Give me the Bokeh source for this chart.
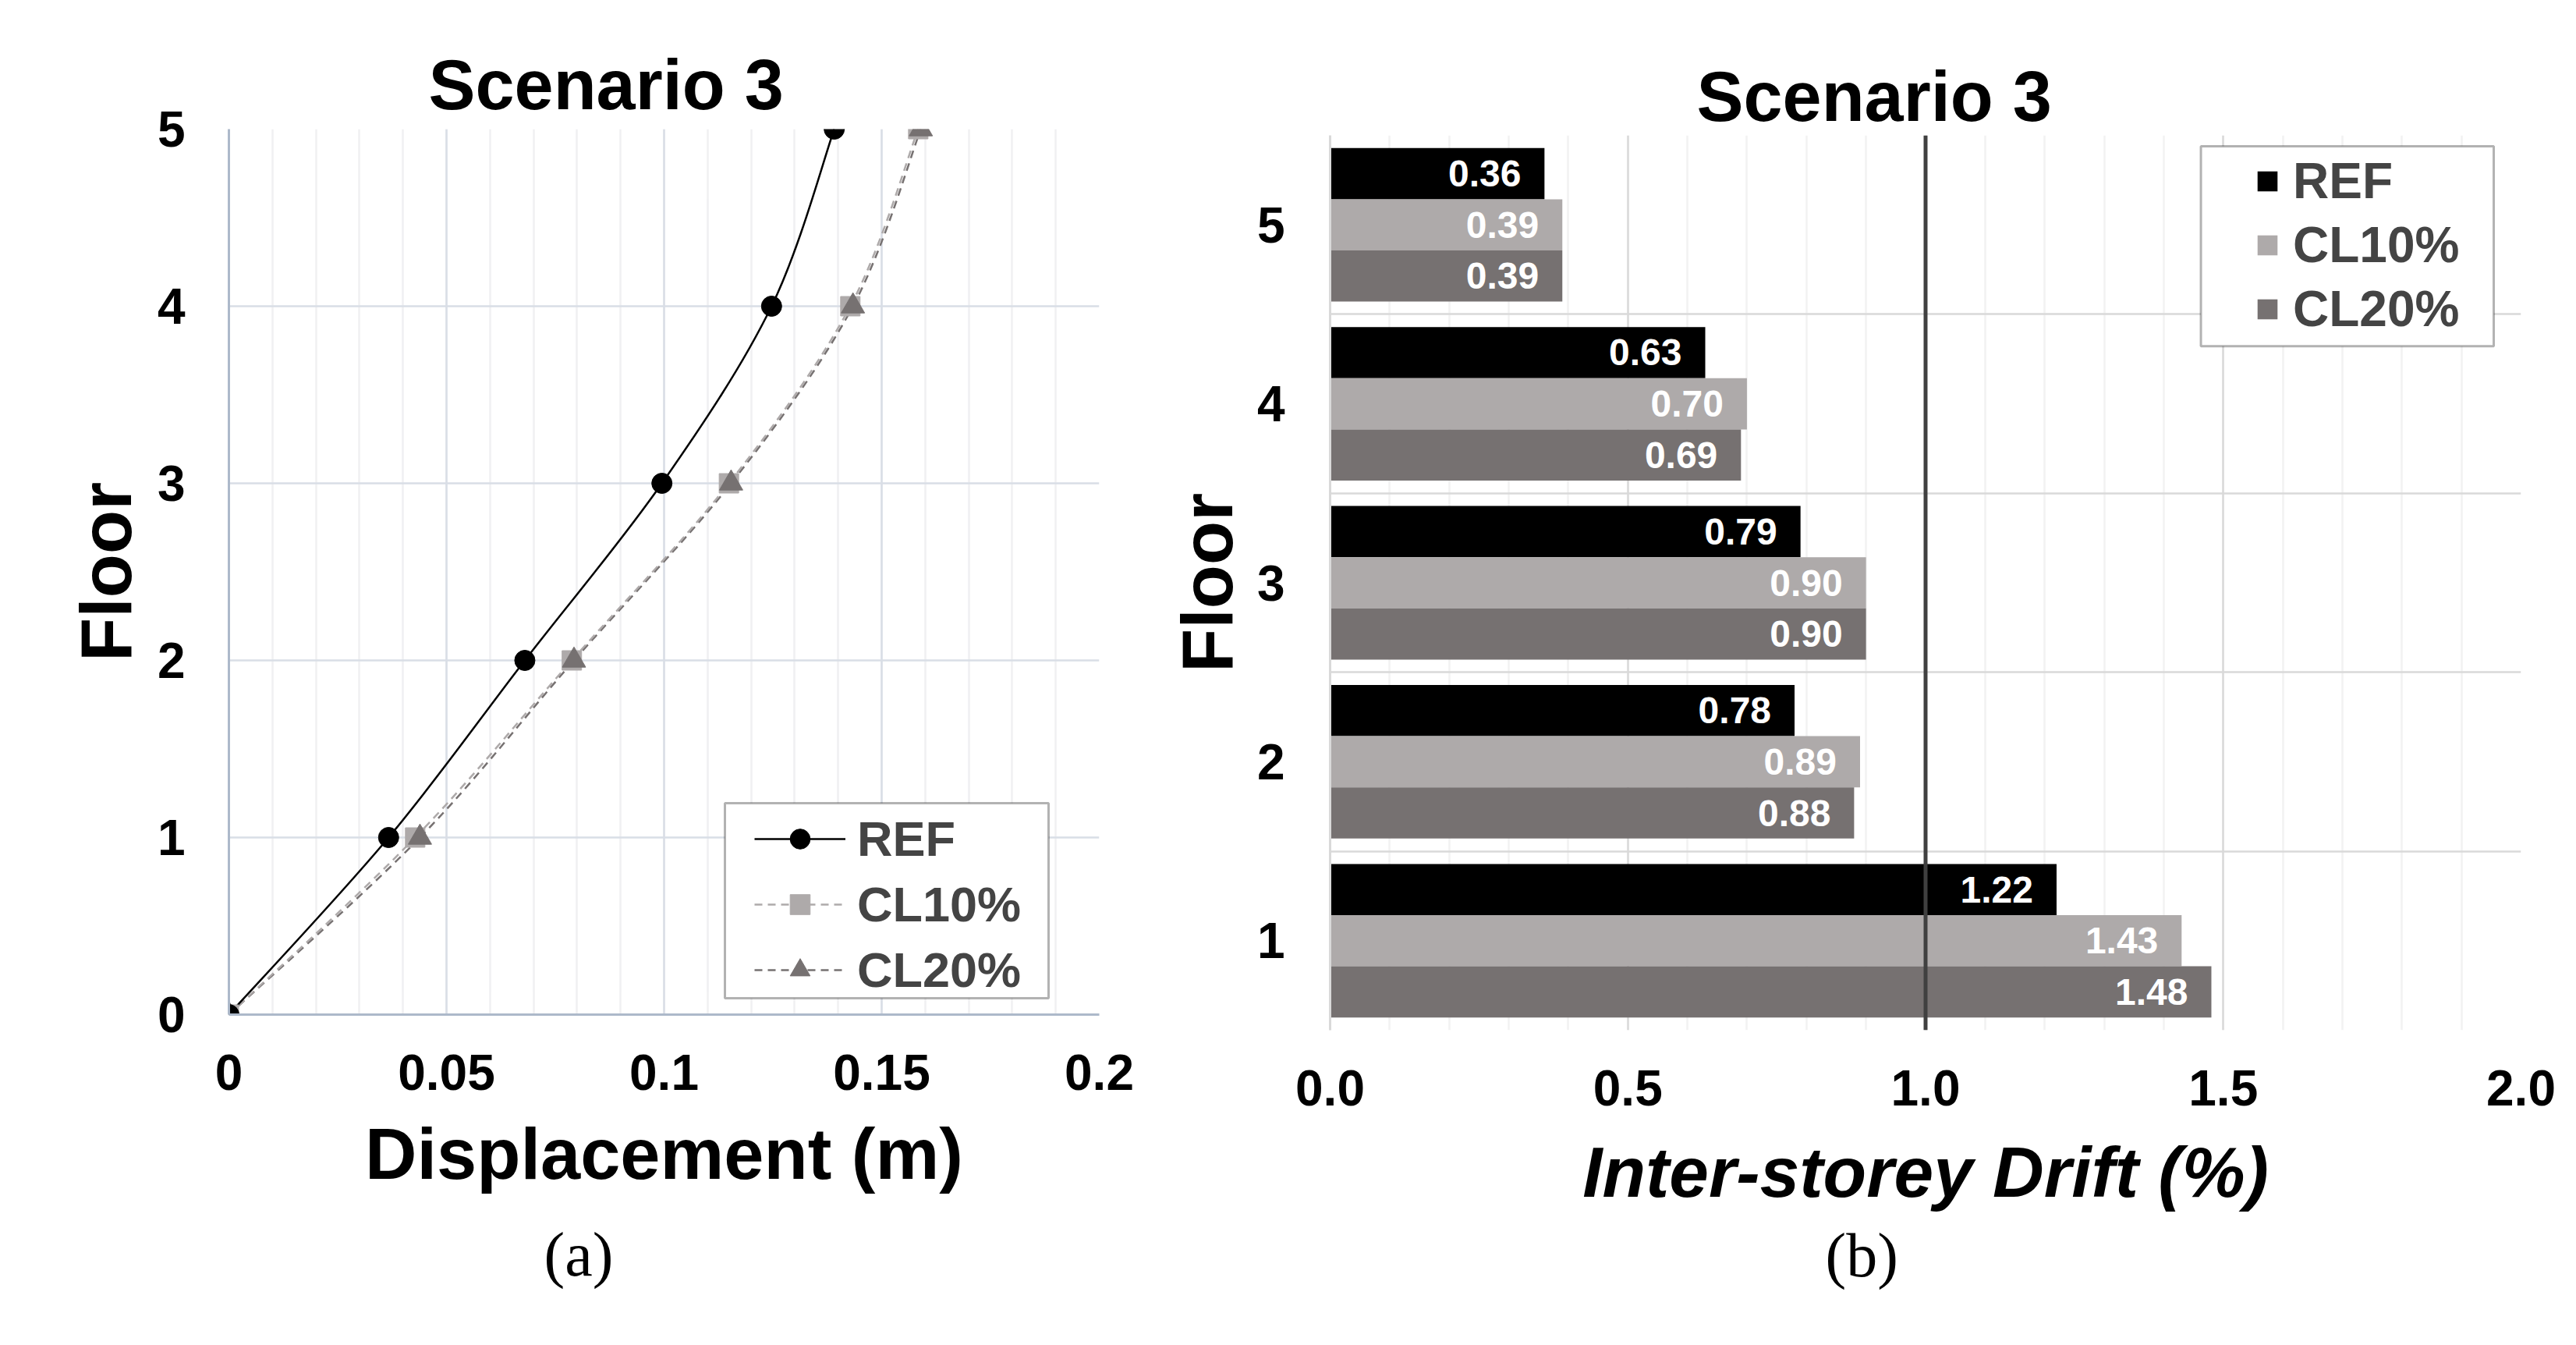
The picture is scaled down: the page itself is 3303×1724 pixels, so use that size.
from bokeh.plotting import figure
from bokeh.layouts import row
from bokeh.models import (ColumnDataSource, FixedTicker, NumeralTickFormatter, Legend,
                          LegendItem, LabelSet, Span, BoxAnnotation, Title)
from bokeh.transform import dodge
from bokeh.core.properties import value
from bokeh.embed import file_html
from bokeh.resources import INLINE

FONT = "Liberation Sans"

# ---------------- data ----------------
series_names = ["REF", "CL10%", "CL20%"]
series_colors = ["#000000", "#AEAAAA", "#767171"]

floors_disp = [0, 1, 2, 3, 4, 5]
disp_ref = [0.0, 0.0367, 0.0680, 0.0995, 0.1247, 0.1391]
disp_cl10 = [0.0, 0.0428, 0.0788, 0.1149, 0.1428, 0.1584]
disp_cl20 = [0.0, 0.0439, 0.0793, 0.1154, 0.1434, 0.1590]

floors_drift = [1, 2, 3, 4, 5]
drift_ref = [1.22, 0.78, 0.79, 0.63, 0.36]
drift_cl10 = [1.43, 0.89, 0.90, 0.70, 0.39]
drift_cl20 = [1.48, 0.88, 0.90, 0.69, 0.39]
drift_limit = 1.0

disp_ticks = [0, 0.05, 0.1, 0.15, 0.2]
disp_minor = [i / 100 for i in range(21)]
floor_ticks_a = [0, 1, 2, 3, 4, 5]
drift_ticks = [0, 0.5, 1.0, 1.5, 2.0]
drift_minor = [i / 10 for i in range(21)]
floor_ticks_b = [1, 2, 3, 4, 5]
floor_bounds_b = [0.5, 1.5, 2.5, 3.5, 4.5, 5.5]


def smooth(xs, ys):
    """Bezier control points (Catmull-Rom, like Excel's smoothed line)."""
    n = len(xs)
    d = dict(x0=[], y0=[], x1=[], y1=[], cx0=[], cy0=[], cx1=[], cy1=[])
    for i in range(n - 1):
        xp, yp = (xs[i - 1], ys[i - 1]) if i > 0 else (xs[i], ys[i])
        xn, yn = (xs[i + 2], ys[i + 2]) if i + 2 < n else (xs[i + 1], ys[i + 1])
        d["x0"].append(xs[i]); d["y0"].append(ys[i])
        d["x1"].append(xs[i + 1]); d["y1"].append(ys[i + 1])
        d["cx0"].append(xs[i] + (xs[i + 1] - xp) / 6); d["cy0"].append(ys[i] + (ys[i + 1] - yp) / 6)
        d["cx1"].append(xs[i + 1] - (xn - xs[i]) / 6); d["cy1"].append(ys[i + 1] - (yn - ys[i]) / 6)
    return ColumnDataSource(d)


def style_axis(ax):
    ax.major_tick_line_color = None
    ax.minor_tick_line_color = None
    ax.major_tick_out = 0
    ax.major_tick_in = 0
    ax.minor_tick_out = 0
    ax.minor_tick_in = 0
    ax.major_label_text_font = FONT
    ax.major_label_text_font_style = "bold"
    ax.major_label_text_font_size = "64px"
    ax.major_label_text_color = "black"
    ax.axis_label_text_font = FONT
    ax.axis_label_text_font_style = "bold"
    ax.axis_label_text_font_size = "92px"
    ax.axis_label_text_color = "black"


def no_align(p):
    try:
        p.frame_align = False
    except Exception:
        pass


# ---------------- (a) displacement profile ----------------
p1 = figure(width=1493, height=1720, x_range=(0, 0.2), y_range=(0, 5),
            output_backend="svg", toolbar_location=None,
            min_border_left=293, min_border_right=84, min_border_top=165, min_border_bottom=420)
p1.outline_line_color = None
no_align(p1)

for ax in (p1.xaxis[0], p1.yaxis[0]):
    style_axis(ax)
    ax.axis_line_color = "#ADB9CA"
    ax.axis_line_width = 3

p1.xaxis.ticker = FixedTicker(ticks=disp_ticks, minor_ticks=disp_minor)
p1.xaxis.formatter = NumeralTickFormatter(format="0.[00]")
p1.xaxis.major_label_standoff = 51
p1.xaxis.axis_label = "Displacement (m)"
p1.xaxis.axis_label_standoff = 28
p1.yaxis.ticker = FixedTicker(ticks=floor_ticks_a)
p1.yaxis.major_label_standoff = 56
p1.yaxis.axis_label = "Floor"
p1.yaxis.axis_label_standoff = 12

p1.xgrid.grid_line_color = "#D9DEE6"
p1.xgrid.grid_line_width = 2.5
p1.xgrid.minor_grid_line_color = "#F0F0F2"
p1.xgrid.minor_grid_line_width = 2.5
p1.ygrid.grid_line_color = "#D9DEE6"
p1.ygrid.grid_line_width = 2.5

disp_series = [disp_ref, disp_cl10, disp_cl20]
line_dashes = ["solid", "10 7", "10 7"]
markers = ["circle", "square", "triangle"]
marker_sizes = [26, 25, 30]

line_rs = [None, None, None]
for i in (2, 1, 0):
    line_rs[i] = p1.bezier(x0="x0", y0="y0", x1="x1", y1="y1", cx0="cx0", cy0="cy0",
                           cx1="cx1", cy1="cy1", source=smooth(disp_series[i], floors_disp),
                           line_color=series_colors[i], line_width=2.5, line_dash=line_dashes[i])
pt_rs = [None, None, None]
for i in (1, 2, 0):
    pt_rs[i] = p1.scatter(x=disp_series[i], y=floors_disp, marker=markers[i], size=marker_sizes[i],
                          fill_color=series_colors[i], line_color=series_colors[i])

p1.add_layout(BoxAnnotation(left=0.11398, right=0.18835, bottom=0.0925, top=1.1938,
                            fill_color="white", fill_alpha=1, line_color="black", line_width=3))
leg1 = Legend(items=[LegendItem(label=n, renderers=[line_rs[i], pt_rs[i]])
                     for i, n in enumerate(series_names)],
              location=(674, 21), padding=0, margin=0, spacing=12,
              glyph_width=117, glyph_height=64, label_height=64, label_standoff=15,
              border_line_color=None, background_fill_alpha=0,
              label_text_font=FONT, label_text_font_style="bold", label_text_font_size="63px")
p1.add_layout(leg1)

p1.title = Title(text="Scenario 3", align="left", offset=256, standoff=14,
                 text_font=FONT, text_font_style="bold", text_font_size="90px", text_color="black")
p1.add_layout(Title(text="(a)", align="left", offset=404, standoff=59,
                    text_font="Liberation Serif", text_font_style="normal",
                    text_font_size="80px", text_color="black"), "below")

# ---------------- (b) inter-storey drift ----------------
p2 = figure(width=1807, height=1720, x_range=(0, 2), y_range=(0.5, 5.5),
            output_backend="svg", toolbar_location=None,
            min_border_left=210, min_border_right=68, min_border_top=173, min_border_bottom=400)
p2.outline_line_color = None
no_align(p2)

for ax in (p2.xaxis[0], p2.yaxis[0]):
    style_axis(ax)

p2.xaxis.ticker = FixedTicker(ticks=drift_ticks, minor_ticks=drift_minor)
p2.xaxis.formatter = NumeralTickFormatter(format="0.0")
p2.xaxis.major_label_standoff = 51
p2.xaxis.axis_line_color = None
p2.xaxis.axis_label = "Inter-storey Drift (%)"
p2.xaxis.axis_label_text_font_style = "bold italic"
p2.xaxis.axis_label_text_font_size = "91px"
p2.xaxis.axis_label_standoff = 32
p2.yaxis.ticker = FixedTicker(ticks=floor_ticks_b)
p2.yaxis.major_label_standoff = 58
p2.yaxis.axis_label = "Floor"
p2.yaxis.axis_label_standoff = 10
p2.yaxis.axis_line_color = "#D9D9D9"
p2.yaxis.axis_line_width = 3

p2.xgrid.grid_line_color = "#D9D9D9"
p2.xgrid.grid_line_width = 2.5
p2.xgrid.minor_grid_line_color = "#F2F2F2"
p2.xgrid.minor_grid_line_width = 2.5
p2.ygrid.ticker = FixedTicker(ticks=floor_bounds_b)
p2.ygrid.grid_line_color = "#D9D9D9"
p2.ygrid.grid_line_width = 2.5

src = ColumnDataSource(dict(
    floor=floors_drift, ref=drift_ref, cl10=drift_cl10, cl20=drift_cl20,
    ref_lbl=[f"{v:.2f}" for v in drift_ref],
    cl10_lbl=[f"{v:.2f}" for v in drift_cl10],
    cl20_lbl=[f"{v:.2f}" for v in drift_cl20],
))
bar_h = 0.286
bar_rs = []
for key, col, off in zip(["ref", "cl10", "cl20"], series_colors, [bar_h, 0, -bar_h]):
    r = p2.hbar(y=dodge("floor", off), left=0, right=key, height=bar_h, fill_color=col,
                line_color=None, source=src)
    bar_rs.append(r)
    p2.add_layout(LabelSet(x=key, y=dodge("floor", off), text=key + "_lbl", source=src,
                           x_offset=-30, text_align="right", text_baseline="middle",
                           text_color="white", text_font=value(FONT), text_font_style="bold",
                           text_font_size="48px"))

p2.add_layout(Span(location=drift_limit, dimension="height", line_color="#404040", line_width=5))

p2.add_layout(BoxAnnotation(left=1.4624, right=1.9542, bottom=4.3217, top=5.4391,
                            fill_color="white", fill_alpha=1, line_color="black", line_width=3))
leg2 = Legend(items=[LegendItem(label=n, renderers=[bar_rs[i]]) for i, n in enumerate(series_names)],
              location=(1186, 887), padding=0, margin=0, spacing=8,
              glyph_width=32, glyph_height=32, label_height=32, label_standoff=17,
              border_line_color=None, background_fill_alpha=0,
              label_text_font=FONT, label_text_font_style="bold", label_text_font_size="64px")
p2.add_layout(leg2)

p2.title = Title(text="Scenario 3", align="left", offset=470, standoff=0,
                 text_font=FONT, text_font_style="bold", text_font_size="90px", text_color="black")
p2.add_layout(Title(text="(b)", align="left", offset=635, standoff=15,
                    text_font="Liberation Serif", text_font_style="normal",
                    text_font_size="80px", text_color="black"), "below")

layout = row(p1, p2, spacing=0)
open("out.html", "w").write(file_html(layout, INLINE))
